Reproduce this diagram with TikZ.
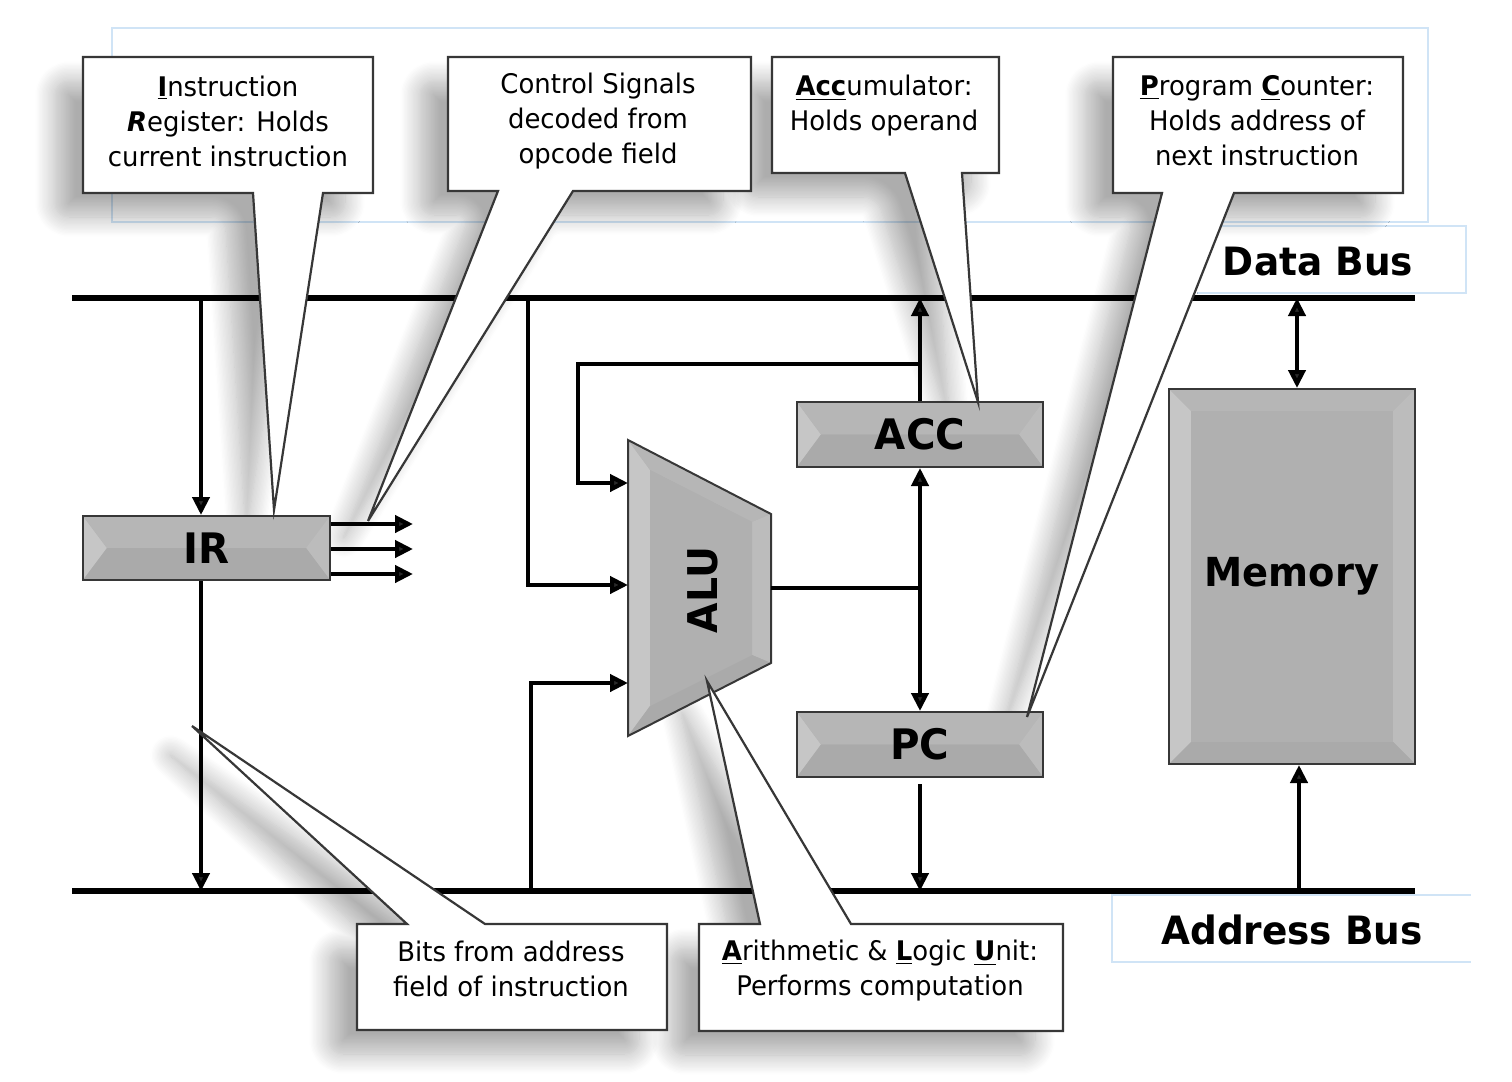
\documentclass[tikz,border=0pt]{standalone}
\usepackage{fontspec}
\setmainfont{DejaVu Sans}[FakeStretch=0.96]
\usetikzlibrary{arrows.meta,calc,shadows.blur}
\pgfdeclarelayer{bg}
\pgfsetlayers{bg,main}
\definecolor{boxgray}{RGB}{176,176,176}
\definecolor{bvl}{RGB}{198,198,198}
\definecolor{bvt}{RGB}{182,182,182}
\definecolor{bvr}{RGB}{188,188,188}
\definecolor{bvb}{RGB}{170,170,170}
\definecolor{edgec}{RGB}{55,55,55}
\definecolor{ghost}{RGB}{208,228,246}
\newcommand{\bevelfill}[8]{%
  \fill[boxgray] #1 -- #2 -- #3 -- #4 -- cycle;
  \fill[bvl] #1 -- #5 -- #8 -- #4 -- cycle;
  \fill[bvt] #1 -- #2 -- #6 -- #5 -- cycle;
  \fill[bvr] #2 -- #3 -- #7 -- #6 -- cycle;
  \fill[bvb] #4 -- #3 -- #7 -- #8 -- cycle;
  \fill[boxgray] #5 -- #6 -- #7 -- #8 -- cycle;
}
\newcommand{\coIR}{(83,57) -- (373,57) -- (373,193) -- (323,193) -- (274,510) -- (253,193) -- (83,193) -- cycle}
\newcommand{\coCS}{(448,57) -- (751,57) -- (751,191) -- (573,191) -- (368,521) -- (498,191) -- (448,191) -- cycle}
\newcommand{\coAC}{(772,57) -- (999,57) -- (999,173) -- (962,173) -- (978,402) -- (905,173) -- (772,173) -- cycle}
\newcommand{\coPC}{(1113,57) -- (1403,57) -- (1403,193) -- (1234,193) -- (1027,717) -- (1162,193) -- (1113,193) -- cycle}
\newcommand{\coBI}{(357,924) -- (407,924) -- (192,726) -- (485,924) -- (667,924) -- (667,1030) -- (357,1030) -- cycle}
\newcommand{\coAL}{(699,924) -- (760,924) -- (707,681) -- (851,924) -- (1063,924) -- (1063,1031) -- (699,1031) -- cycle}
\tikzset{
  bus/.style={line width=2.7pt},
  wire/.style={line width=2.1pt},
  arr/.style={wire, -{Triangle[length=9pt,width=8.5pt]}},
  dbl/.style={wire, {Triangle[length=9pt,width=8.5pt]}-{Triangle[length=9pt,width=8.5pt]}},
  regbox/.style={draw=edgec, line width=1pt, inner sep=0pt, font=\fontsize{21}{24}\selectfont\bfseries},
  lbl/.style={font=\fontsize{19.5}{23}\selectfont\bfseries, inner sep=0pt},
  co/.style={fill=white, draw=edgec, line width=1.1pt},
  cotext/.style={align=center, inner sep=0pt, font=\fontsize{13.5}{17.5}\selectfont},
  coshadow/.style={blur shadow={shadow xshift=-14pt, shadow yshift=-12pt, shadow blur radius=10pt, shadow opacity=32, shadow blur steps=16, shadow blur extra rounding=7pt}},
  ghostline/.style={draw=ghost, line width=0.7pt},
}
\begin{document}
\begin{tikzpicture}[x=0.5pt, y=-0.5pt]
\useasboundingbox (0,0) rectangle (1512,1082);

% background: ghost frames and callout shadows
\begin{pgfonlayer}{bg}
  \draw[ghostline] (112,28) rectangle (1428,222);
  \draw[ghostline] (1197,226) -- (1466,226) -- (1466,293) -- (1197,293);
  \draw[ghostline] (1471,895) -- (1112,895) -- (1112,962) -- (1471,962);
  \path[coshadow] \coIR;
  \path[coshadow] \coCS;
  \path[coshadow] \coAC;
  \path[coshadow] \coPC;
  \path[coshadow] \coBI;
  \path[coshadow] \coAL;
\end{pgfonlayer}

% buses
\coordinate (dbL) at (72,298);  \coordinate (dbR) at (1415,298);
\coordinate (abL) at (72,891);  \coordinate (abR) at (1415,891);
\draw[bus] (dbL) -- (dbR);
\draw[bus] (abL) -- (abR);
\node[lbl] (dblbl) at (1318,262) {Data Bus};
\node[lbl] (ablbl) at (1292,930) {Address Bus};

% register boxes
\bevelfill{(83,516)}{(330,516)}{(330,580)}{(83,580)}{(107,548)}{(306,548)}{(306,548)}{(107,548)}
\node[regbox, minimum width=123.5pt, minimum height=32pt] (ir) at (206.5,548) {IR};
\bevelfill{(797,402)}{(1043,402)}{(1043,467)}{(797,467)}{(821,434.5)}{(1019,434.5)}{(1019,434.5)}{(821,434.5)}
\node[regbox, minimum width=123pt, minimum height=32.5pt] (acc) at (920,434.5) {ACC};
\bevelfill{(797,712)}{(1043,712)}{(1043,777)}{(797,777)}{(821,744.5)}{(1019,744.5)}{(1019,744.5)}{(821,744.5)}
\node[regbox, minimum width=123pt, minimum height=32.5pt] (pc) at (920,744.5) {PC};
\bevelfill{(1169,389)}{(1415,389)}{(1415,764)}{(1169,764)}{(1191,411)}{(1393,411)}{(1393,742)}{(1191,742)}
\node[regbox, minimum width=123pt, minimum height=187.5pt, font=\fontsize{20}{24}\selectfont\bfseries] (mem) at (1292,576.5) {Memory};

% ALU
\coordinate (alutl) at (628,440); \coordinate (alutr) at (771,514);
\coordinate (alubr) at (771,663); \coordinate (alubl) at (628,736);
\bevelfill{(alutl)}{(alutr)}{(alubr)}{(alubl)}{(650,470)}{(752,522)}{(752,655)}{(650,706)}
\draw[draw=edgec, line width=1pt] (alutl) -- (alutr) -- (alubr) -- (alubl) -- cycle;
\node[lbl, rotate=90, font=\fontsize{20.5}{24}\selectfont\bfseries] (alu) at (703,590) {ALU};

% wires
\coordinate (irtap) at (201,298);
\draw[arr] (irtap) -- (irtap |- ir.north);
\draw[arr] (irtap |- ir.south) -- (irtap |- abL);
\coordinate (o1) at (413,524); \coordinate (o2) at (413,549); \coordinate (o3) at (413,574);
\draw[arr] (o1 -| ir.east) -- (o1);
\draw[arr] (o2 -| ir.east) -- (o2);
\draw[arr] (o3 -| ir.east) -- (o3);
\coordinate (aluin1) at (628,483); \coordinate (aluin2) at (628,585); \coordinate (aluin3) at (628,683);
\coordinate (ctap) at (528,298);
\draw[arr] (ctap) |- (aluin2);
\coordinate (fb) at (920,364); \coordinate (fbx) at (578,364);
\draw[arr] (fb) -- (fbx) |- (aluin1);
\coordinate (atap) at (531,891);
\draw[arr] (atap) |- (aluin3);
\draw[arr] (acc.north) -- (acc.north |- dbL);
\coordinate (aluout) at (771,588);
\draw[wire] (aluout) -- (aluout -| acc.south);
\draw[dbl] (acc.south) -- (pc.north);
\draw[arr, shorten <=3pt] (pc.south) -- (pc.south |- abL);
\coordinate (mtop) at (1297,298);
\draw[dbl] (mtop) -- (mtop |- mem.north);
\coordinate (mbot) at (1299,891);
\draw[arr] (mbot) -- (mbot |- mem.south);

% callouts
\draw[co] \coIR;
\draw[co] \coCS;
\draw[co] \coAC;
\draw[co] \coPC;
\draw[co] \coBI;
\draw[co] \coAL;
\node[cotext] (tir) at (228,121) {\underline{\textbf{I}}nstruction\\\textbf{\textit{R}}egister: Holds\\current instruction};
\node[cotext] (tcs) at (598,121) {Control Signals\\decoded from\\opcode field};
\node[cotext] (tac) at (884,106) {\underline{\textbf{Acc}}umulator:\\Holds operand};
\node[cotext] (tpc) at (1257,121) {\underline{\textbf{P}}rogram \underline{\textbf{C}}ounter:\\Holds address of\\next instruction};
\node[cotext] (tbi) at (511,969) {Bits from address\\field of instruction};
\node[cotext] (tal) at (880,971) {\underline{\textbf{A}}rithmetic \& \underline{\textbf{L}}ogic \underline{\textbf{U}}nit:\\Performs computation};
\end{tikzpicture}
\end{document}
